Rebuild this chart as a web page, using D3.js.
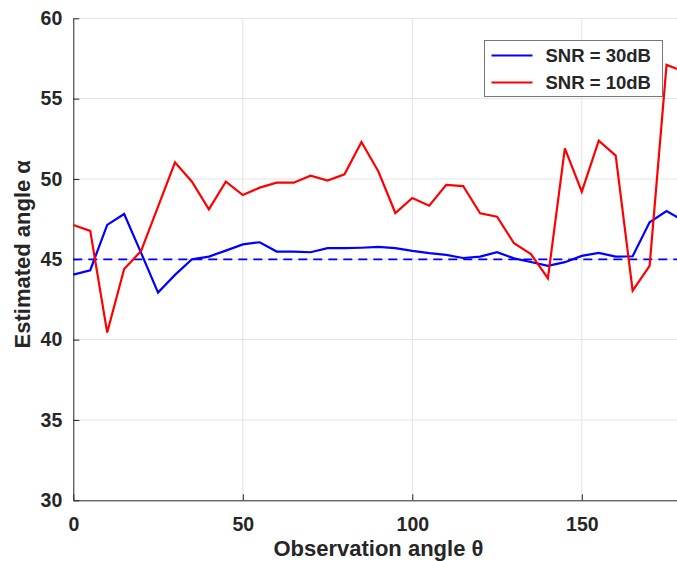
<!DOCTYPE html>
<html>
<head>
<meta charset="utf-8">
<script src="https://cdn.jsdelivr.net/npm/d3@7"></script>
<style>
  body { margin: 0; background: #fff; }
  text { font-family: "Liberation Sans", Arial, Helvetica, sans-serif; font-weight: bold; fill: #262626; }
</style>
</head>
<body>
<script>
// DATA
const angles = [0,5,10,15,20,25,30,35,40,45,50,55,60,65,70,75,80,85,90,95,100,105,110,115,120,125,130,135,140,145,150,155,160,165,170,175,180]
const snr30 = [44.05,44.32,47.14,47.82,45.4,42.93,44.03,45.0,45.17,45.54,45.93,46.06,45.48,45.48,45.44,45.69,45.69,45.72,45.77,45.69,45.52,45.38,45.27,45.08,45.17,45.44,45.06,44.83,44.59,44.82,45.21,45.4,45.17,45.19,47.3,48.0,47.4]
const snr10 = [47.14,46.77,40.44,44.4,45.52,48.28,51.04,49.83,48.11,49.83,49.0,49.46,49.77,49.77,50.2,49.9,50.29,52.3,50.46,47.88,48.82,48.34,49.63,49.56,47.86,47.65,46.0,45.33,43.82,51.9,49.21,52.38,51.45,43.05,44.59,57.1,56.7]
const trueAngle = 45
const xTicks = [0,50,100,150]
const yTicks = [30,35,40,45,50,55,60]
const seriesNames = ["SNR = 30dB", "SNR = 10dB"]
const seriesColors = ["#0000ff", "#ff0000"]

const W = 677, H = 561
const margin = {left: 73.3, top: 18.3, right: W - 683.5, bottom: H - 500.3}
const gw = W - margin.left - margin.right
const gh = H - margin.top - margin.bottom

const svg = d3.select("body").append("svg").attr("width", W).attr("height", H)
const g = svg.append("g").attr("transform", `translate(${margin.left},${margin.top})`)

const X = d3.scaleLinear().domain([0, 180]).range([0, gw])
const Y = d3.scaleLinear().domain([30, 60]).range([gh, 0])

//GRID
g.selectAll(".vgrid").data(xTicks.slice(1)).enter().append("line")
  .attr("x1", d => X(d)).attr("x2", d => X(d)).attr("y1", 0).attr("y2", gh)
  .attr("stroke", "#e3e3e3").attr("stroke-width", 1)
g.selectAll(".hgrid").data(yTicks.slice(1)).enter().append("line")
  .attr("x1", 0).attr("x2", gw).attr("y1", d => Y(d)).attr("y2", d => Y(d))
  .attr("stroke", "#e3e3e3").attr("stroke-width", 1)

//AXES (ticks inward)
const xa = g.append("g").attr("transform", `translate(0,${gh})`)
  .call(d3.axisBottom(X).tickValues(xTicks).tickSize(-6).tickSizeOuter(0))
const ya = g.append("g")
  .call(d3.axisLeft(Y).tickValues(yTicks).tickSize(-6).tickSizeOuter(0).tickPadding(11))
;[xa, ya].forEach(a => {
  a.select(".domain").attr("stroke", "#262626").attr("stroke-width", 1)
  a.selectAll(".tick line").attr("stroke", "#262626")
  a.selectAll("text").style("font-size", "19.5px").attr("font-family", null).attr("fill", "#262626")
})
xa.selectAll("text").attr("dy", "0.71em").attr("y", 17)

//REFERENCE LINE
g.append("line")
  .attr("x1", 0).attr("x2", gw).attr("y1", Y(trueAngle)).attr("y2", Y(trueAngle))
  .attr("stroke", "#0000ff").attr("stroke-width", 1.7).attr("stroke-dasharray", "9,6")

//SERIES
const line = d3.line().x((d, i) => X(angles[i])).y(d => Y(d))
;[snr30, snr10].forEach((s, k) => {
  g.append("path").datum(s).attr("d", line)
    .attr("fill", "none").attr("stroke", seriesColors[k]).attr("stroke-width", 2.2)
})

//AXIS LABELS
svg.append("text").attr("x", margin.left + gw / 2).attr("y", 556)
  .attr("text-anchor", "middle").style("font-size", "22px").text("Observation angle θ")
svg.append("text").attr("transform", `translate(30,${(margin.top + gh / 2) - 5}) rotate(-90)`)
  .attr("text-anchor", "middle").style("font-size", "22px").text("Estimated angle α")

//LEGEND
const lg = svg.append("g").attr("transform", "translate(484.5,40.5)")
lg.append("rect").attr("width", 178).attr("height", 56)
  .attr("fill", "#fff").attr("stroke", "#777").attr("stroke-width", 1)
seriesNames.forEach((n, k) => {
  lg.append("line").attr("x1", 7).attr("x2", 48).attr("y1", 15 + k * 27).attr("y2", 15 + k * 27)
    .attr("stroke", seriesColors[k]).attr("stroke-width", 2)
  lg.append("text").attr("x", 61).attr("y", 21.5 + k * 27).style("font-size", "18.5px").text(n)
})
</script>
</body>
</html>
